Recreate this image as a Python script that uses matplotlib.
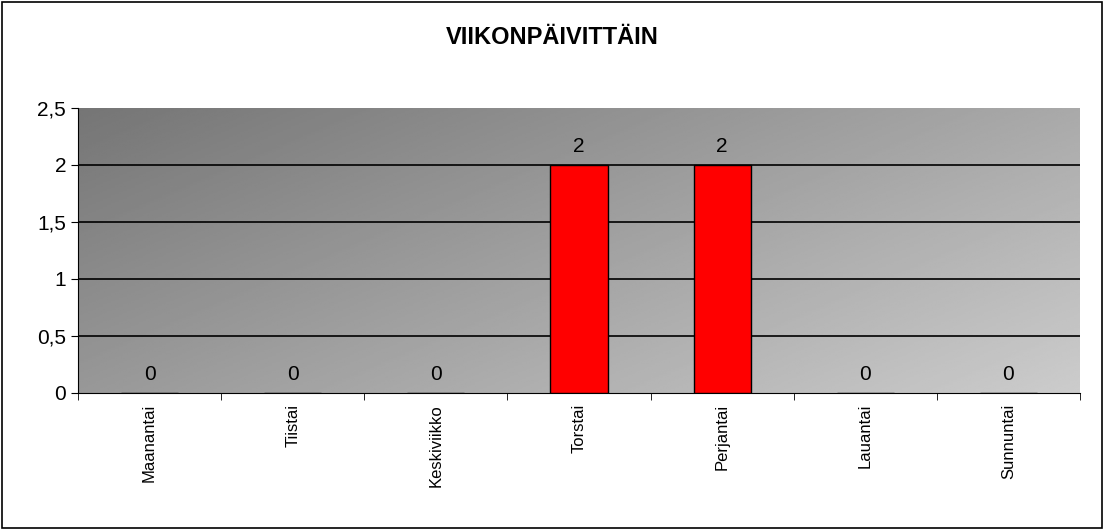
import matplotlib
matplotlib.use("Agg")
import matplotlib.pyplot as plt
import numpy as np

plt.rcParams['font.family'] = ['Liberation Sans', 'DejaVu Sans']

days = ["Maanantai", "Tiistai", "Keskiviikko", "Torstai", "Perjantai", "Lauantai", "Sunnuntai"]
values = [0, 0, 0, 2, 2, 0, 0]
yticks = [0, 0.5, 1, 1.5, 2, 2.5]
yticklabels = ["0", "0,5", "1", "1,5", "2", "2,5"]

fig = plt.figure(figsize=(11.04, 5.30), dpi=100)
fig.patch.set_facecolor('white')
fig.add_artist(plt.Rectangle((0.002, 0.003), 0.996, 0.994, transform=fig.transFigure,
                             fill=False, edgecolor='black', linewidth=1.2))
ax = fig.add_axes([78/1104, 137/530, 1002/1104, 285/530])

# gradient background: dark top-left, light bottom-right
n = 256
xx, yy = np.meshgrid(np.linspace(0, 1, n), np.linspace(0, 1, n))
t = (xx * 0.6 + yy * 0.4)
grad = 0.46 + t * (0.80 - 0.46)
ax.imshow(grad, cmap='gray', vmin=0, vmax=1, extent=[0, 1, 0, 1], transform=ax.transAxes,
          aspect='auto', zorder=0, origin='upper')

x = np.arange(len(days))
ax.bar(x, values, width=0.4, color='#ff0000', edgecolor='black', linewidth=1, zorder=3)
ax.set_xlim(-0.5, len(days) - 0.5)
ax.set_ylim(0, 2.5)
ax.set_yticks(yticks)
ax.set_yticklabels(yticklabels, fontsize=15)
for yv in yticks[1:-1]:
    ax.axhline(yv, color='black', linewidth=1.2, zorder=2)
ax.set_xticks(x)
ax.set_xticklabels(days, rotation=90, fontsize=12)
ax.tick_params(axis='x', length=0, pad=8)
ax.set_xticks(np.arange(-0.5, len(days), 1), minor=True)
ax.tick_params(axis='x', which='minor', length=5)
ax.tick_params(axis='y', length=5)
for s in ['top', 'right']:
    ax.spines[s].set_visible(False)
for s in ['left', 'bottom']:
    ax.spines[s].set_color('black')

for xi, v in zip(x, values):
    ax.text(xi, v + 0.08, str(v), ha='center', va='bottom', fontsize=15, zorder=4)

fig.text(0.5, 1 - 38/530, "VIIKONPÄIVITTÄIN", ha='center', va='center', fontsize=17, fontweight='bold')

fig.savefig("out.png", dpi=100)
